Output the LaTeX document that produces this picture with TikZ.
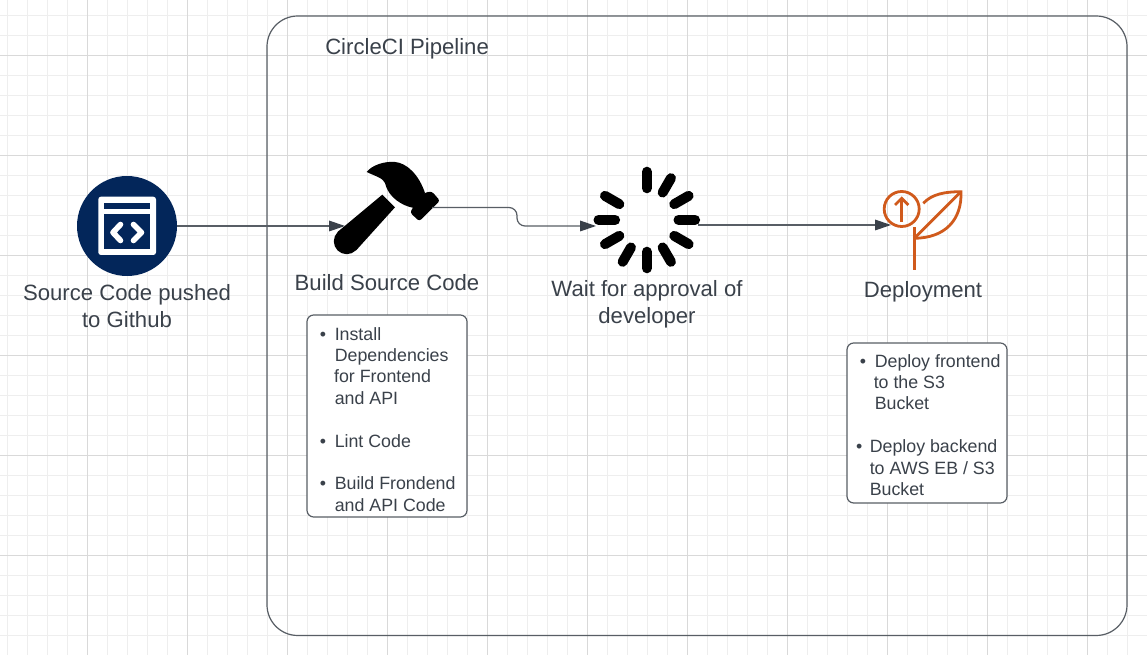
\documentclass[tikz,border=0pt]{standalone}
\usepackage{fontspec}
\setmainfont{Liberation Sans}
\usetikzlibrary{math}
\usetikzlibrary{arrows.meta}
\definecolor{inkgray}{HTML}{3A414A}
\definecolor{gridminor}{HTML}{EEEEEE}
\definecolor{gridmajor}{HTML}{D9D9D9}
\definecolor{navyicon}{HTML}{03265A}
\definecolor{leaforange}{HTML}{D05A1C}
\tikzset{
  biglabel/.style={text=inkgray, align=center, inner sep=0pt, font=\fontsize{16.6pt}{20.2pt}\selectfont},
  listtext/.style={text=inkgray, align=left, anchor=north west, inner sep=0pt, font=\fontsize{13.35pt}{16.05pt}\selectfont},
  listbox/.style={draw=inkgray!85, fill=white, line width=0.9pt, rounded corners=5pt, minimum width=120pt, inner sep=0pt},
  flowline/.style={draw=inkgray!85, line width=0.9pt, -{Triangle[length=12pt, width=8pt, color=inkgray]}},
  plantline/.style={draw=leaforange, line width=2.1pt},
}
\newcommand{\itemdot}[1]{\llap{\textbullet\hspace{#1}}}

\begin{document}
\begin{tikzpicture}[x=0.75pt, y=-0.75pt]
  \useasboundingbox (0, 0) rectangle (1147, 655);
  \fill [white] (0, 0) rectangle (1147, 655);

  % grid
  \foreach \i in {0, ..., 57} {
    \tikzmath{
      \gx = 7.5 + 20*\i;
    }
    \draw [gridminor, line width=0.75pt] (\gx, 0) -- (\gx, 655);
  }
  \foreach \i in {0, ..., 32} {
    \tikzmath{
      \gy = 15.5 + 20*\i;
    }
    \draw [gridminor, line width=0.75pt] (0, \gy) -- (1147, \gy);
  }
  \foreach \i in {0, ..., 10} {
    \draw [gridmajor, line width=0.75pt] (87.5 + 100*\i, 0) -- (87.5 + 100*\i, 655);
  }
  \foreach \i in {0, ..., 5} {
    \draw [gridmajor, line width=0.75pt] (0, 55.5 + 100*\i) -- (1147, 55.5 + 100*\i);
  }

  % pipeline frame
  \node (frame) [draw=inkgray!85, line width=0.9pt, rounded corners=23pt, minimum width=645pt, minimum height=464.6pt, inner sep=0pt] at (697, 325.75) {};
  \node (title) [biglabel, anchor=west] at (325, 49) {CircleCI Pipeline};

  % source icon
  \node (srcicon) [circle, fill=navyicon, minimum size=75pt, inner sep=0pt] at (127, 226) {};
  \fill [white, rounded corners=2pt] (98.3, 196.7) rectangle (156, 255);
  \fill [navyicon] (104, 203.3) rectangle (150, 209.3);
  \fill [navyicon] (104, 214.3) rectangle (150, 249);
  \draw [white, line width=4.2pt, line cap=round, line join=round] (120.5, 224.5) -- (113, 232.5) -- (120.5, 240.5);
  \draw [white, line width=4.2pt, line cap=round, line join=round] (133.5, 224.5) -- (141.5, 232.5) -- (133.5, 240.5);

  % hammer
  \fill [black] (382.3, 194.7) -- (395, 207.3) -- (356, 250.5) -- (337.5, 232) -- cycle;
  \fill [black] (346.7, 241.3) circle (12.9);
  \fill [black, rounded corners=2pt] (424, 193) -- (431.7, 191.3) -- (440, 200.7) -- (419.3, 221.3) -- (410, 212.5) -- (414, 206) -- cycle;
  \fill [black] (366.7, 172) .. controls (372, 165) and (385, 161) .. (395, 162)
    .. controls (407, 163) and (419, 175) .. (425, 193)
    -- (414, 208)
    .. controls (402, 206) and (388, 197) .. (385, 183)
    .. controls (383, 178) and (375, 176) .. (366.7, 172) -- cycle;

  % spinner
  \coordinate (waitc) at (646.8, 220);
  \foreach \a in {-90, -60, ..., 210} {
    \draw [black, line width=7.5pt, line cap=round] (waitc) ++(\a:31.7) -- ++(\a:16.6);
  }

  % plant icon
  \draw [plantline] (901.7, 209) circle (17.5);
  \draw [plantline] (901.7, 221.7) -- (901.7, 199);
  \draw [plantline] (895, 205) -- (901.7, 198.3) -- (908.3, 205);
  \draw [plantline] (914.3, 227.3) -- (914.3, 270);
  \draw [plantline] (914.3, 238.3) -- (961, 191.7);
  \draw [plantline] (923.3, 203.3) .. controls (932, 194) and (945, 191.7) .. (961, 191.7)
    .. controls (962, 220) and (945, 238) .. (914.3, 238.3);

  % connectors
  \coordinate (buildin) at (345, 226);
  \coordinate (buildout) at (432, 207.5);
  \coordinate (waitin) at (596, 226);
  \coordinate (waitout) at (698, 225);
  \coordinate (deployin) at (891, 225);
  \draw [flowline] (srcicon) -- (buildin);
  \draw [flowline, rounded corners=6pt] (buildout) -| (517, 226) -- (waitin);
  \draw [flowline] (waitout) -- (deployin);

  % labels
  \node (srclabel) [biglabel] at (127, 306) {Source Code pushed\\to Github};
  \node (buildlabel) [biglabel] at (387, 283) {Build Source Code};
  \node (waitlabel) [biglabel] at (647, 304.5) {Wait for approval of\\developer};
  \node (deploylabel) [biglabel] at (923, 292) {Deployment};

  % lists
  \node (buildbox) [listbox, minimum height=151.5pt] at (387, 416) {};
  \node (buildlist) [listtext] at (334.5, 327) {\itemdot{6.5pt}Install\\Dependencies\\\hspace*{-0.5pt}for Frontend\\and API\\[16.05pt]\itemdot{6.5pt}Lint Code\\[16.05pt]\itemdot{6.5pt}Build Frondend\\and API Code};
  \node (deploybox) [listbox, minimum height=120pt] at (927, 423) {};
  \node (deploylist) [listtext] at (869.5, 354) {\hspace*{3.75pt}\itemdot{6.5pt}Deploy frontend\\\hspace*{3pt}to the S3\\\hspace*{3.75pt}Bucket\\[16.05pt]\itemdot{5.5pt}Deploy backend\\to AWS EB / S3\\Bucket};
\end{tikzpicture}
\end{document}
